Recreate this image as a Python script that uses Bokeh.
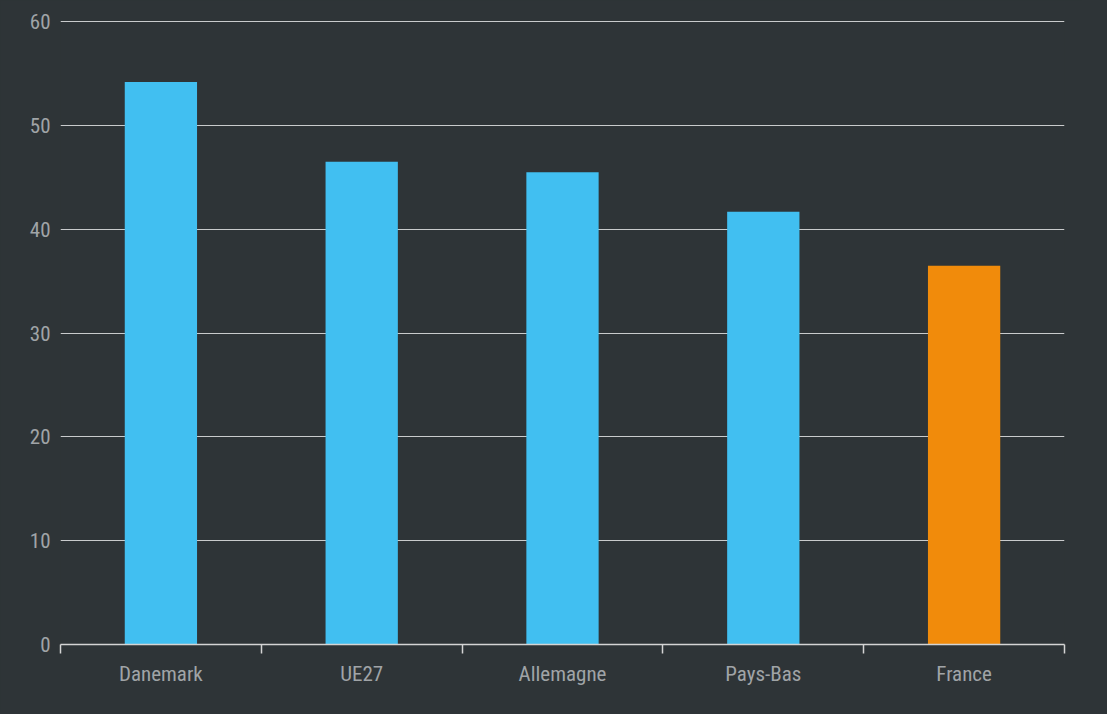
from bokeh.plotting import figure
from bokeh.models import Range1d, FixedTicker
from bokeh.embed import file_html
from bokeh.resources import INLINE

categories = ["Danemark", "UE27", "Allemagne", "Pays-Bas", "France"]
values = [54.2, 46.5, 45.5, 41.7, 36.5]
colors = ["#41bff1", "#41bff1", "#41bff1", "#41bff1", "#f18b0b"]
y_ticks = [0, 10, 20, 30, 40, 50, 60]

BG = "#2e3437"
FONT = "Roboto Condensed, DejaVu Sans Condensed, sans-serif"

n = len(categories)
centers = [i + 0.5 for i in range(n)]
bounds = list(range(n + 1))

p = figure(width=1082, height=712, output_backend="svg", toolbar_location=None,
           x_range=Range1d(0, n), y_range=Range1d(0, 60.12),
           min_border_left=60, min_border_right=18, min_border_top=20, min_border_bottom=68)

p.background_fill_color = BG
p.border_fill_color = BG
p.outline_line_color = None

p.vbar(x=centers, top=values, width=0.36, color=colors, line_color=None)

# x axis
p.xaxis.ticker = FixedTicker(ticks=centers, minor_ticks=bounds)
p.xaxis.major_label_overrides = {c: lab for c, lab in zip(centers, categories)}
p.xaxis.axis_line_color = "#d4d4d4"
p.xaxis.axis_line_width = 1.5
p.xaxis.major_tick_line_color = None
p.xaxis.major_tick_out = 0
p.xaxis.major_tick_in = 0
p.xaxis.minor_tick_line_color = "#d4d4d4"
p.xaxis.minor_tick_line_width = 1.5
p.xaxis.minor_tick_out = 9
p.xaxis.minor_tick_in = 0
p.xaxis.major_label_standoff = 8
p.xaxis.major_label_text_color = "#a0a4a7"
p.xaxis.major_label_text_font = FONT
p.xaxis.major_label_text_font_size = "21px"
p.xgrid.visible = False

# y axis
p.yaxis.ticker = FixedTicker(ticks=y_ticks)
p.yaxis.axis_line_color = None
p.yaxis.major_tick_line_color = None
p.yaxis.minor_tick_line_color = None
p.yaxis.major_tick_out = 0
p.yaxis.major_tick_in = 0
p.yaxis.major_label_standoff = 10
p.yaxis.major_label_text_color = "#a0a4a7"
p.yaxis.major_label_text_font = FONT
p.yaxis.major_label_text_font_size = "21px"
p.ygrid.grid_line_color = "#c9cbcc"
p.ygrid.grid_line_width = 1

html = file_html(p, INLINE)
html = html.replace("</head>", "<style>html,body{background:%s;margin:0;overflow:hidden}</style></head>" % BG, 1)
open("out.html", "w").write(html)
